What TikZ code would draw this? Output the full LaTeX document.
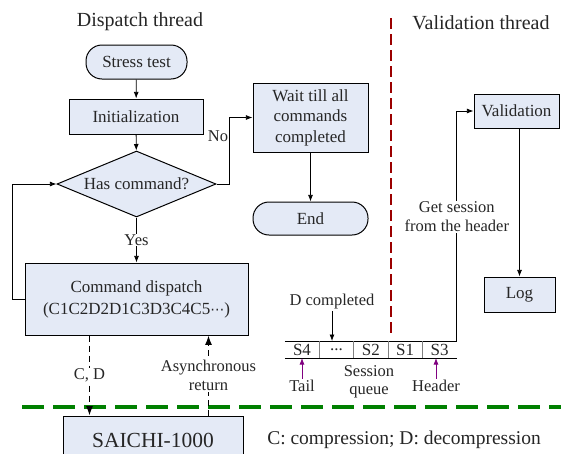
\documentclass[tikz,border=0pt]{standalone}
\usepackage{fontspec}
\setmainfont{Liberation Serif}
\newfontfamily\symfont{DejaVu Sans}
\usetikzlibrary{shapes.geometric,positioning,arrows.meta,calc}
\usepackage{xcolor}
\definecolor{boxfill}{RGB}{228,234,246}
\definecolor{sepgreen}{RGB}{0,128,0}
\definecolor{sepred}{RGB}{155,0,0}

\begin{document}
\begin{tikzpicture}[x=1pt, y=-1pt, line width=0.8pt,
  box/.style={draw, fill=boxfill, line width=1pt, inner sep=0pt, align=center, text=black!85, font=\fontsize{17}{21}\selectfont},
  term/.style={box, rounded corners=16pt},
  cond/.style={box, diamond, aspect=2.4},
  lbl/.style={align=center, inner sep=1pt, text=black!85, font=\fontsize{16.5}{18.5}\selectfont},
  title/.style={text=black!85, font=\fontsize{20}{24}\selectfont},
  cell/.style={minimum width=33.6pt, minimum height=16pt, inner sep=0pt, text=black!85, font=\fontsize{17}{20}\selectfont}
]
  \useasboundingbox (0,0) rectangle (561,453);

  % titles and separators
  \node[title] (disp) at (140,22) {Dispatch thread};
  \node[title] (valt) at (481,23) {Validation thread};
  \coordinate (redtop) at (391,18);
  \coordinate (redbot) at (391,333);
  \draw[sepred, line width=2pt, dash pattern=on 11pt off 5pt] (redtop) -- (redbot);
  \coordinate (grnleft) at (22,407);
  \coordinate (grnright) at (561,407);
  \draw[sepgreen, line width=3.5pt, dash pattern=on 22pt off 9pt] (grnleft) -- (grnright);

  % dispatch thread
  \node[term, minimum width=101pt, minimum height=34pt] (stress) at (136.5,62) {Stress test};
  \node[box, minimum width=134pt, minimum height=35pt] (init) at (136,116.5) {Initialization};
  \node[cond, minimum width=159pt, minimum height=66pt] (has) at (136.5,184) {Has command?};
  \node[box, minimum width=223pt, minimum height=72pt, font=\fontsize{17}{22}\selectfont] (cmd) at (136.5,299) {Command dispatch\\(C1C2D2D1C3D3C4C5{\symfont\fontsize{14}{14}\selectfont ⋯})};
  \node[box, minimum width=115pt, minimum height=69pt, font=\fontsize{17}{20.5}\selectfont] (wait) at (310.5,117.5) {Wait till all\\commands\\completed};
  \node[term, minimum width=115pt, minimum height=33pt] (end) at (310.5,218.5) {End};
  \node[box, minimum width=180pt, minimum height=48pt, font=\fontsize{21.5}{24}\selectfont] (saichi) at (153,440) {SAICHI-1000};

  % validation thread
  \node[box, minimum width=85pt, minimum height=34pt] (valid) at (516.5,111) {Validation};
  \node[box, minimum width=71pt, minimum height=35pt] (log) at (519.5,294.5) {Log};

  % session queue
  \node[cell] (s4) at (302,349.5) {S4};
  \node[cell, right=0pt of s4] (sdots) {{.}{.}{.}};
  \node[cell, right=0pt of sdots] (s2) {S2};
  \node[cell, right=0pt of s2] (s1) {S1};
  \node[cell, right=0pt of s1] (s3) {S3};
  \draw (s4.north west) -- (s3.north east);
  \draw (s4.south west) -- (s3.south east);
  \foreach \c in {s4,sdots,s2,s1} \draw[gray] (\c.north east) -- (\c.south east);

  \node[lbl] (dcomp) at (332,302) {D completed};
  \node[lbl] (tail) at (302,386) {Tail};
  \node[lbl] (squeue) at (369,382) {Session\\queue};
  \node[lbl] (head) at (436,386) {Header};
  \node[lbl, font=\fontsize{19.5}{22}\selectfont] (legend) at (404,440) {C: compression; D: decompression};

  % connectors
  \draw[-{Latex}] (stress) -- (init);
  \draw[-{Latex}] (init) -- (has);
  \draw[-{Latex}] (has) -- node[lbl, fill=white] {Yes} (cmd);
  \draw[-{Latex}] (cmd.west) -- ++(-12,0) |- (has.west);
  \draw[-{Latex}] (has.east) -- ++(13,0) |- node[lbl, pos=0.36, left] {No} (wait.west);
  \draw[-{Latex}] (wait) -- (end);
  \draw[-{Latex}] (s3.north east) |- node[lbl, fill=white, pos=0.27] {Get session\\from the header} (valid.west);
  \draw[-{Latex}] (valid.south -| log.north) -- (log.north);
  \draw[-{Latex}] (dcomp.south) -- (dcomp.south |- sdots.north);
  \draw[-{Latex}, violet] (tail.north) -- (tail.north |- s4.south);
  \draw[-{Latex}, violet] (head.north) -- (head.north |- s3.south);

  \draw[dashed, line width=1.4pt, dash pattern=on 6pt off 4pt, -{Latex}] ([xshift=65pt]cmd.south west) coordinate (cdtop) -- (cdtop |- saichi.north) node[lbl, midway, fill=white] {C, D};
  \draw[dashed, line width=1.4pt, dash pattern=on 6pt off 4pt, -{Latex}] ([xshift=146pt]saichi.north west) coordinate (asyb) -- (asyb |- cmd.south) node[lbl, midway, fill=white] {Asynchronous\\return};
\end{tikzpicture}
\end{document}
